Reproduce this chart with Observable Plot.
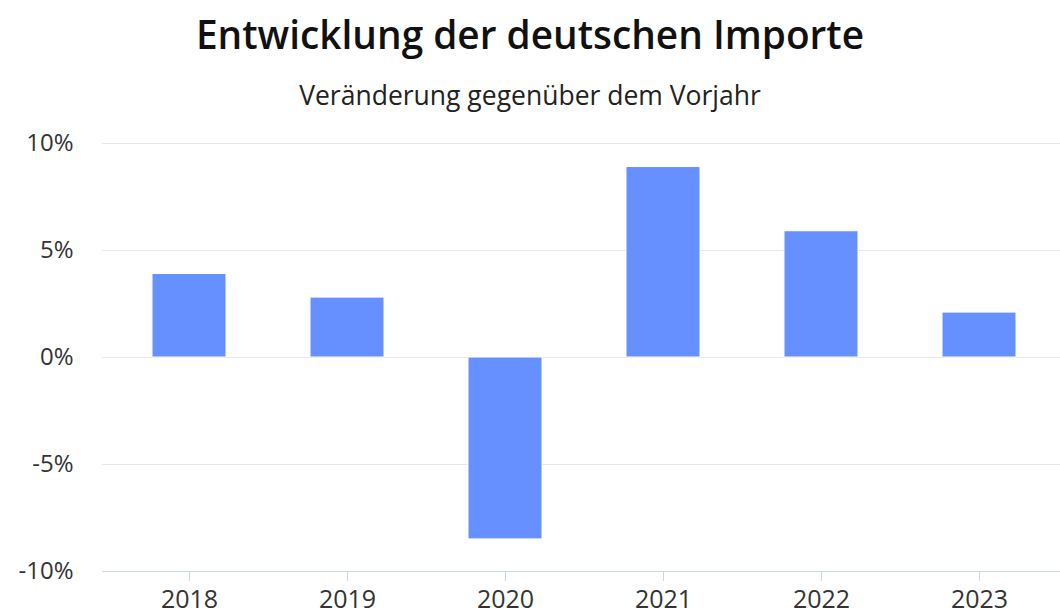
<!DOCTYPE html>
<html><head><meta charset="utf-8">
<script src="https://cdn.jsdelivr.net/npm/d3@7"></script>
<script src="https://cdn.jsdelivr.net/npm/@observablehq/plot@0.6"></script>
<style>
body{margin:0;background:#fff;font-family:"Open Sans",sans-serif;}
#wrap{position:relative;width:1060px;height:614px;overflow:hidden;background:#fff}
#title{position:absolute;top:15px;left:0;width:1060px;text-align:center;font-size:38.8px;font-weight:600;color:#111;line-height:1;white-space:nowrap}
#subtitle{position:absolute;top:82px;left:0;width:1060px;text-align:center;font-size:26.5px;color:#222;line-height:1;white-space:nowrap}
#chart{position:absolute;top:120px;left:0}
</style></head>
<body>
<div id="wrap">
<div id="title">Entwicklung der deutschen Importe</div>
<div id="subtitle">Veränderung gegenüber dem Vorjahr</div>
<div id="chart"></div>
</div>
<script>
const years = ["2018", "2019", "2020", "2021", "2022", "2023"];
const values = [3.9, 2.8, -8.5, 8.9, 5.9, 2.1];
const yTicks = [-10, -5, 0, 5, 10];
const data = years.map((year, i) => ({year, value: values[i]}));

const chart = Plot.plot({
  width: 1060, height: 494,
  marginTop: 23, marginBottom: 43, marginLeft: 102, marginRight: 0,
  style: {fontFamily: "'Open Sans', sans-serif", fontSize: "24px", color: "#333", background: "#fff", overflow: "visible"},
  x: {domain: years, range: [109, 1060], paddingInner: 0.53, paddingOuter: 0.265, label: null},
  y: {domain: [-10, 10], label: null},
  marks: [
    Plot.ruleY(yTicks.filter(d => d > -10), {stroke: "#e6e6e6", strokeWidth: 1}),
    Plot.ruleY([-10], {stroke: "#ccd6eb", strokeWidth: 1}),
    Plot.barY(data, {x: "year", y: "value", fill: "#6690ff", stroke: "#fff", strokeWidth: 1}),
    Plot.axisY(yTicks, {tickSize: 0, tickPadding: 29, tickFormat: d => d + "%", fontSize: 24, fill: "#333"}),
    Plot.axisX({tickSize: 10, tickPadding: 9, stroke: "#ccd6eb", fill: "#333", fontSize: 25, strokeOpacity: 1})
  ]
});
document.getElementById("chart").appendChild(chart);
</script>
</body></html>
